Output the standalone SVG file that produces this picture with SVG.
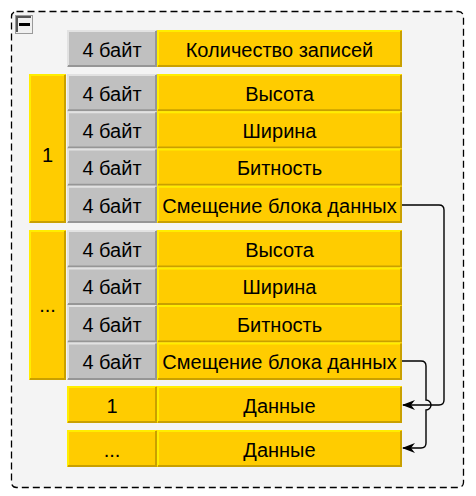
<svg xmlns="http://www.w3.org/2000/svg" width="476" height="496" viewBox="0 0 476 496">
<style>
.yf{fill:#ffcc00}
.gf{fill:#c0c0c0}
.yl{fill:none;stroke:#ffee00;stroke-width:2}
.yd{fill:none;stroke:#c9a000;stroke-width:2}
.gl{fill:none;stroke:#e2e2e2;stroke-width:2}
.gd{fill:none;stroke:#969696;stroke-width:2}
text{font-family:"Liberation Sans",Arial,sans-serif;font-size:20px;fill:#000;text-anchor:middle}
.conn{fill:none;stroke:#000;stroke-width:1.4}
</style>
<defs>
<marker id="arr" viewBox="0 0 13 10" refX="12" refY="5" markerWidth="13" markerHeight="10" markerUnits="userSpaceOnUse" orient="auto">
<path d="M0,0 L13,5 L0,10 L4,5 Z" fill="#000"/>
</marker>
</defs>
<g id="container">
<rect x="11.5" y="11.5" width="452" height="476" rx="5" fill="#f4f4f4" stroke="#000" stroke-width="1.3" stroke-dasharray="7 4"/>
<rect x="15.5" y="15.5" width="17" height="18" fill="#f0f0f0" stroke="#9a9a9a" stroke-width="1"/>
<path d="M17,32 V17 H31" fill="none" stroke="#555" stroke-width="2"/>
<rect x="19" y="23" width="11" height="3" fill="#000"/>
</g>
<g id="row-count">
<rect class="gf" x="67" y="30" width="90" height="37"/><path class="gl" d="M68,66 V31 H156"/><path class="gd" d="M68,66 H156 V31"/>
<text x="112" y="56.5">4 байт</text>
<rect class="yf" x="157" y="30" width="245" height="37"/><path class="yl" d="M158,66 V31 H401"/><path class="yd" d="M158,66 H401 V31"/>
<text x="279.5" y="56.5">Количество записей</text>
</g>
<g id="group1">
<rect class="yf" x="29" y="74" width="37" height="149"/><path class="yl" d="M30,222 V75 H65"/><path class="yd" d="M30,222 H65 V75"/>
<text x="47.5" y="162">1</text>
</g>
<g id="g1-height">
<rect class="gf" x="67" y="74" width="90" height="37.25"/><path class="gl" d="M68,110.25 V75 H156"/><path class="gd" d="M68,110.25 H156 V75"/>
<text x="112" y="100.5">4 байт</text>
<rect class="yf" x="157" y="74" width="245" height="37.25"/><path class="yl" d="M158,110.25 V75 H401"/><path class="yd" d="M158,110.25 H401 V75"/>
<text x="279.5" y="100.5">Высота</text>
</g>
<g id="g1-width">
<rect class="gf" x="67" y="111.25" width="90" height="37.25"/><path class="gl" d="M68,147.5 V112.25 H156"/><path class="gd" d="M68,147.5 H156 V112.25"/>
<text x="112" y="138">4 байт</text>
<rect class="yf" x="157" y="111.25" width="245" height="37.25"/><path class="yl" d="M158,147.5 V112.25 H401"/><path class="yd" d="M158,147.5 H401 V112.25"/>
<text x="279.5" y="138">Ширина</text>
</g>
<g id="g1-bits">
<rect class="gf" x="67" y="148.5" width="90" height="37.25"/><path class="gl" d="M68,184.75 V149.5 H156"/><path class="gd" d="M68,184.75 H156 V149.5"/>
<text x="112" y="175">4 байт</text>
<rect class="yf" x="157" y="148.5" width="245" height="37.25"/><path class="yl" d="M158,184.75 V149.5 H401"/><path class="yd" d="M158,184.75 H401 V149.5"/>
<text x="279.5" y="175">Битность</text>
</g>
<g id="g1-offset">
<rect class="gf" x="67" y="185.75" width="90" height="37.25"/><path class="gl" d="M68,222 V186.75 H156"/><path class="gd" d="M68,222 H156 V186.75"/>
<text x="112" y="212.5">4 байт</text>
<rect class="yf" x="157" y="185.75" width="245" height="37.25"/><path class="yl" d="M158,222 V186.75 H401"/><path class="yd" d="M158,222 H401 V186.75"/>
<text x="279.5" y="212.5">Смещение блока данных</text>
</g>
<g id="group2">
<rect class="yf" x="29" y="230" width="37" height="150"/><path class="yl" d="M30,379 V231 H65"/><path class="yd" d="M30,379 H65 V231"/>
<text x="47.5" y="312">...</text>
</g>
<g id="g2-height">
<rect class="gf" x="67" y="230" width="90" height="37.5"/><path class="gl" d="M68,266.5 V231 H156"/><path class="gd" d="M68,266.5 H156 V231"/>
<text x="112" y="257">4 байт</text>
<rect class="yf" x="157" y="230" width="245" height="37.5"/><path class="yl" d="M158,266.5 V231 H401"/><path class="yd" d="M158,266.5 H401 V231"/>
<text x="279.5" y="257">Высота</text>
</g>
<g id="g2-width">
<rect class="gf" x="67" y="267.5" width="90" height="37.5"/><path class="gl" d="M68,304 V268.5 H156"/><path class="gd" d="M68,304 H156 V268.5"/>
<text x="112" y="294">4 байт</text>
<rect class="yf" x="157" y="267.5" width="245" height="37.5"/><path class="yl" d="M158,304 V268.5 H401"/><path class="yd" d="M158,304 H401 V268.5"/>
<text x="279.5" y="294">Ширина</text>
</g>
<g id="g2-bits">
<rect class="gf" x="67" y="305" width="90" height="37.5"/><path class="gl" d="M68,341.5 V306 H156"/><path class="gd" d="M68,341.5 H156 V306"/>
<text x="112" y="332">4 байт</text>
<rect class="yf" x="157" y="305" width="245" height="37.5"/><path class="yl" d="M158,341.5 V306 H401"/><path class="yd" d="M158,341.5 H401 V306"/>
<text x="279.5" y="332">Битность</text>
</g>
<g id="g2-offset">
<rect class="gf" x="67" y="342.5" width="90" height="37.5"/><path class="gl" d="M68,379 V343.5 H156"/><path class="gd" d="M68,379 H156 V343.5"/>
<text x="112" y="369">4 байт</text>
<rect class="yf" x="157" y="342.5" width="245" height="37.5"/><path class="yl" d="M158,379 V343.5 H401"/><path class="yd" d="M158,379 H401 V343.5"/>
<text x="279.5" y="369">Смещение блока данных</text>
</g>
<g id="data1">
<rect class="yf" x="67" y="386" width="90" height="37"/><path class="yl" d="M68,422 V387 H156"/><path class="yd" d="M68,422 H156 V387"/>
<text x="112" y="412.5">1</text>
<rect class="yf" x="157" y="386" width="245" height="37"/><path class="yl" d="M158,422 V387 H401"/><path class="yd" d="M158,422 H401 V387"/>
<text x="279.5" y="412.5">Данные</text>
</g>
<g id="data2">
<rect class="yf" x="67" y="430" width="90" height="37"/><path class="yl" d="M68,466 V431 H156"/><path class="yd" d="M68,466 H156 V431"/>
<text x="112" y="456.5">...</text>
<rect class="yf" x="157" y="430" width="245" height="37"/><path class="yl" d="M158,466 V431 H401"/><path class="yd" d="M158,466 H401 V431"/>
<text x="279.5" y="456.5">Данные</text>
</g>
<g id="connectors">
<path class="conn" d="M402,205 H439 Q444,205 444,210 V400 Q444,405 439,405 H403" marker-end="url(#arr)"/>
<path class="conn" d="M402,361 H421 Q426,361 426,366 V400 A5,5 0 0,1 426,410 V443 Q426,448 421,448 H403" marker-end="url(#arr)"/>
</g>
</svg>
